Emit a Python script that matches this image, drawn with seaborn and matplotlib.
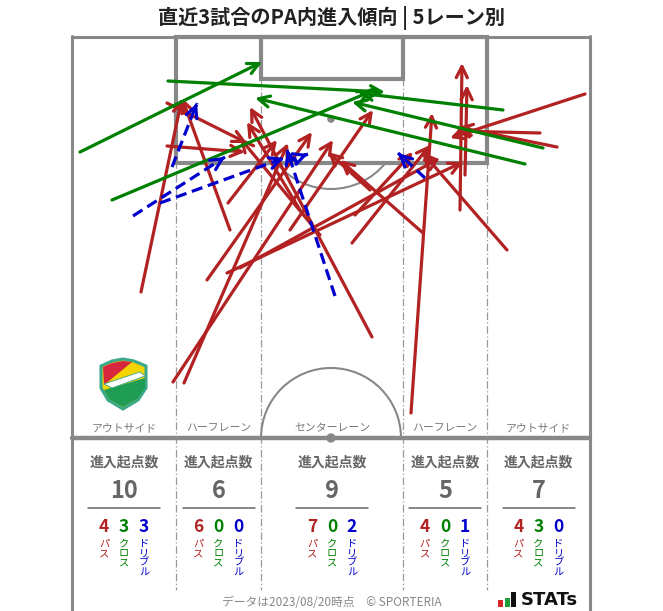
import numpy as np
import pandas as pd
import matplotlib
matplotlib.use("Agg")
import matplotlib.pyplot as plt
import seaborn as sns
from matplotlib.patches import Rectangle, Arc, Polygon

sns.set_theme(style="white")
plt.rcParams['font.family'] = ['Noto Sans CJK JP', 'DejaVu Sans']

TITLE = "直近3試合のPA内進入傾向 | 5レーン別"
LANES = ["アウトサイド", "ハーフレーン", "センターレーン", "ハーフレーン", "アウトサイド"]
KIND_LABELS = ["パス", "クロス", "ドリブル"]
pass_counts = [4, 6, 7, 4, 4]
cross_counts = [3, 0, 0, 0, 3]
dribble_counts = [3, 0, 2, 1, 0]
FOOTER = "データは2023/08/20時点　© SPORTERIA"

# pitch coordinates (pitch units: x from left touchline 0..518, y from goal line 0..401)
pass_x0 = [69, 95, 95, 101, 112, 135, 155, 156, 158, 168, 300, 280, 228, 248, 283, 298, 218, 339, 388, 393, 351, 435, 513, 468, 485]
pass_y0 = [255, 109, 66, 345, 346, 243, 236, 166, 193, 231, 300, 206, 173, 198, 178, 153, 193, 376, 173, 138, 196, 213, 57, 96, 110]
pass_x1 = [110, 173, 175, 261, 216, 240, 391, 205, 110, 368, 178, 358, 175, 168, 341, 256, 301, 360, 390, 395, 268, 350, 378, 383, 386]
pass_y1 = [61, 115, 106, 103, 106, 95, 125, 103, 61, 121, 70, 108, 85, 101, 115, 115, 73, 76, 26, 48, 123, 115, 101, 94, 90]

cross_x0 = [8, 96, 40, 431, 471, 453]
cross_y0 = [115, 44, 163, 73, 111, 127]
cross_x1 = [190, 313, 300, 286, 280, 183]
cross_y1 = [25, 55, 54, 56, 65, 61]

drib_x0 = [61, 100, 88, 263, 214, 353]
drib_y0 = [179, 130, 166, 259, 125, 141]
drib_x1 = [153, 125, 212, 215, 236, 326]
drib_y1 = [120, 66, 121, 113, 117, 116]

RED, GREEN, BLUE = "#b22222", "#008000", "#0000cd"
LINE = "#888888"
W, H = 663, 611
PX0, PY0, PW, PH = 72, 37, 518, 401

fig = plt.figure(figsize=(W / 100, H / 100), dpi=100)
bg = fig.add_axes([0, 0, 1, 1])
bg.set_xlim(0, W)
bg.set_ylim(H, 0)
bg.axis("off")

pa = fig.add_axes([PX0 / W, (H - PY0 - PH) / H, PW / W, PH / H])
pa.patch.set_alpha(0)

# lane dividers
lane_edges = [176, 261, 403, 487]
for xe in lane_edges:
    bg.plot([xe, xe], [PY0, 590], color="#999999", lw=0.9, ls=(0, (6, 2, 1, 2)), zorder=1)

# frame
bg.plot([PX0, PX0], [PY0 - 1, H + 5], color=LINE, lw=2.2, zorder=2)
bg.plot([PX0 + PW, PX0 + PW], [PY0 - 1, H + 5], color=LINE, lw=2.2, zorder=2)
bg.plot([PX0, PX0 + PW], [PY0, PY0], color=LINE, lw=2.2, zorder=2)
bg.plot([PX0, PX0 + PW], [PY0 + PH, PY0 + PH], color=LINE, lw=3.2, zorder=2)

# pitch markings
pa.add_patch(Rectangle((104, 0), 311, 126, fill=False, ec=LINE, lw=3.0, zorder=2, clip_on=False))
pa.add_patch(Rectangle((189, 0), 142, 42, fill=False, ec=LINE, lw=3.0, zorder=2, clip_on=False))
pa.add_patch(Arc((259, 82), 140, 140, theta1=39, theta2=141, ec=LINE, lw=1.5, zorder=2))
pa.add_patch(Arc((259, PH), 140, 140, theta1=180, theta2=360, ec=LINE, lw=1.5, zorder=2))
spots = pd.DataFrame({"x": [259, 259], "y": [82, PH], "s": [30, 45]})
sns.scatterplot(data=spots, x="x", y="y", size="s", sizes=(30, 45), color=LINE,
                edgecolor="none", legend=False, ax=pa, zorder=3, clip_on=False)
pa.set_xlim(0, PW)
pa.set_ylim(PH, 0)
pa.axis("off")

AST = "->,head_length=0.8,head_width=0.4"


def arrow(ax, x0, y0, x1, y1, color, dashed=False):
    if dashed:
        ax.plot([x0, x1], [y0, y1], color=color, lw=2.3, ls=(0, (3.5, 1.8)), zorder=5,
                solid_capstyle="butt", clip_on=False)
        dx, dy = x1 - x0, y1 - y0
        L = np.hypot(dx, dy)
        ax.annotate("", xy=(x1, y1), xytext=(x1 - dx / L * 4, y1 - dy / L * 4),
                    arrowprops=dict(arrowstyle=AST, color=color, lw=2.3, shrinkA=0, shrinkB=0,
                                    mutation_scale=10), zorder=5, annotation_clip=False)
    else:
        ax.annotate("", xy=(x1, y1), xytext=(x0, y0),
                    arrowprops=dict(arrowstyle=AST, color=color, lw=2.3, shrinkA=0, shrinkB=0,
                                    mutation_scale=10), zorder=4, annotation_clip=False)


for a, b, c, d in zip(pass_x0, pass_y0, pass_x1, pass_y1):
    arrow(pa, a, b, c, d, RED)
for a, b, c, d in zip(cross_x0, cross_y0, cross_x1, cross_y1):
    arrow(pa, a, b, c, d, GREEN)
for a, b, c, d in zip(drib_x0, drib_y0, drib_x1, drib_y1):
    arrow(pa, a, b, c, d, BLUE, dashed=True)

# title
bg.text(W / 2, 18, TITLE, ha="center", va="center", fontsize=14.5, fontweight="bold", color="#222222")

# lane labels and stats
centers = [124, 218.5, 332, 445, 538.5]
for i, cx in enumerate(centers):
    bg.text(cx, 428, LANES[i], ha="center", va="center", fontsize=7.8, color="#777777")
    bg.text(cx, 462, "進入起点数", ha="center", va="center", fontsize=10, fontweight="bold", color="#666666")
    tot = pass_counts[i] + cross_counts[i] + dribble_counts[i]
    bg.text(cx, 491, str(tot), ha="center", va="center", fontsize=17, fontweight="bold", color="#666666")
    bg.plot([cx - 36, cx + 36], [508, 508], color="#666666", lw=1.1)
    vals = [pass_counts[i], cross_counts[i], dribble_counts[i]]
    for j, (v, col) in enumerate(zip(vals, [RED, GREEN, BLUE])):
        x = cx + (j - 1) * 20
        bg.text(x, 527, str(v), ha="center", va="center", fontsize=12.5, fontweight="bold", color=col)
        bg.text(x, 539, "\n".join(KIND_LABELS[j]), ha="center", va="top", fontsize=7.4,
                color=col, linespacing=0.92)

bg.text(W / 2, 603, FOOTER, ha="center", va="center", fontsize=8.5, color="#888888")

# STATs logo
bg.add_patch(Rectangle((498, 600), 5, 7, color="#d62828", lw=0))
bg.add_patch(Rectangle((505, 598), 5, 9, color="#1f9d3a", lw=0))
bg.add_patch(Rectangle((511, 592), 5, 15, color="#111111", lw=0))
bg.text(521, 600, "STATs", ha="left", va="center", fontsize=13, fontweight="bold", color="#111111",
        family=["DejaVu Sans"])

# club crest (simplified)
shield = [(101, 366), (112, 361), (123, 359), (134, 361), (146, 366), (146, 388), (138, 400), (123, 409), (108, 400), (101, 388)]
bg.add_patch(Polygon(shield, closed=True, fc="#f3d400", ec="#3aa88a", lw=2.2, zorder=3))
bg.add_patch(Polygon([(103, 367), (112, 363), (123, 361), (132, 362), (104, 385)], closed=True, fc="#d7263d", lw=0, zorder=4))
bg.add_patch(Polygon([(104, 390), (145, 378), (145, 388), (137, 399), (123, 407), (109, 399)], closed=True, fc="#1f9d55", lw=0, zorder=4))
bg.add_patch(Polygon([(104, 384), (140, 372), (145, 376), (112, 388)], closed=True, fc="white", ec="#3aa88a", lw=0.6, zorder=5))

fig.savefig("out.png", dpi=100)
